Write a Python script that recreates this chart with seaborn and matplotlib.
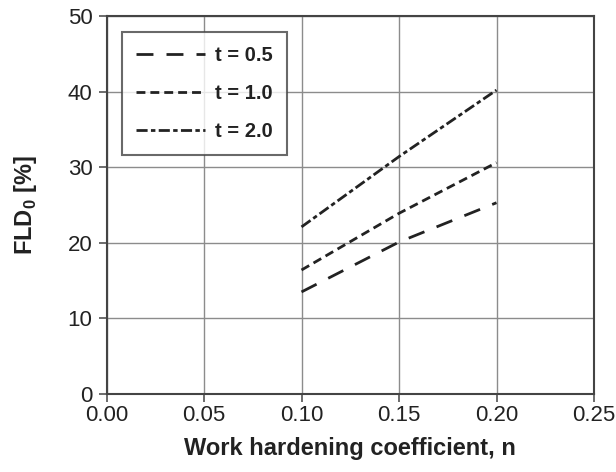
import matplotlib
matplotlib.use("Agg")
import matplotlib.pyplot as plt
import seaborn as sns
import pandas as pd

n_values = [0.10, 0.15, 0.20]
fld_t05 = [13.5, 20.1, 25.3]
fld_t10 = [16.4, 23.9, 30.6]
fld_t20 = [22.1, 31.4, 40.2]
labels = ["t = 0.5", "t = 1.0", "t = 2.0"]
x_ticks = [0, 0.05, 0.10, 0.15, 0.20, 0.25]
x_ticklabels = ["0.00", "0.05", "0.10", "0.15", "0.20", "0.25"]
y_ticks = [0, 10, 20, 30, 40, 50]

sns.set_theme(style="white")
plt.rcParams['font.family'] = ['Liberation Sans', 'DejaVu Sans']
plt.rcParams['mathtext.fontset'] = 'custom'
plt.rcParams['mathtext.rm'] = 'Liberation Sans'
plt.rcParams['mathtext.bf'] = 'Liberation Sans:bold'

df = pd.DataFrame({
    "n": n_values * 3,
    "fld": fld_t05 + fld_t10 + fld_t20,
    "t": [labels[0]] * 3 + [labels[1]] * 3 + [labels[2]] * 3,
})

fig = plt.figure(figsize=(6.16, 4.72), dpi=100)
ax = fig.add_axes([106.5/616, 1 - 394/472, 487.5/616, 378/472])

styles = [(0, (6.1, 4.7)), (0, (3.2, 1.8)), (0, (4.0, 1.2, 1.6, 1.2))]
for lab, ls in zip(labels, styles):
    sub = df[df["t"] == lab]
    sns.lineplot(data=sub, x="n", y="fld", ax=ax, color="#222222", lw=2.0,
                 linestyle=ls, label=lab)

ax.set_xlim(0, 0.25)
ax.set_ylim(0, 50)
ax.set_xticks(x_ticks)
ax.set_xticklabels(x_ticklabels)
ax.set_yticks(y_ticks)
ax.grid(True, color="#8c8c8c", lw=1.0)
for s in ax.spines.values():
    s.set_color("#444444")
    s.set_linewidth(1.5)
ax.tick_params(axis="both", direction="out", length=6, width=1.1, color="#444444",
               labelsize=16, labelcolor="#222222", bottom=True, left=True)
ax.tick_params(axis="x", pad=2)
ax.tick_params(axis="y", pad=4)
ax.set_xlabel("Work hardening coefficient, n", fontsize=17, fontweight="bold",
              color="#222222", labelpad=8)
ax.set_ylabel(r"FLD$_\mathbf{0}$ [%]", fontsize=17, fontweight="bold",
              color="#222222", labelpad=21)

leg = ax.legend(loc="upper left", bbox_to_anchor=(0.032, 0.958), frameon=True,
                fancybox=False, edgecolor="#444444", fontsize=14.5,
                handlelength=3.4, labelspacing=0.95, borderpad=0.7,
                handletextpad=0.5, borderaxespad=0)
leg.get_frame().set_linewidth(1.5)
for t in leg.get_texts():
    t.set_fontweight("bold")
    t.set_color("#222222")

fig.savefig("out.png", dpi=100)
